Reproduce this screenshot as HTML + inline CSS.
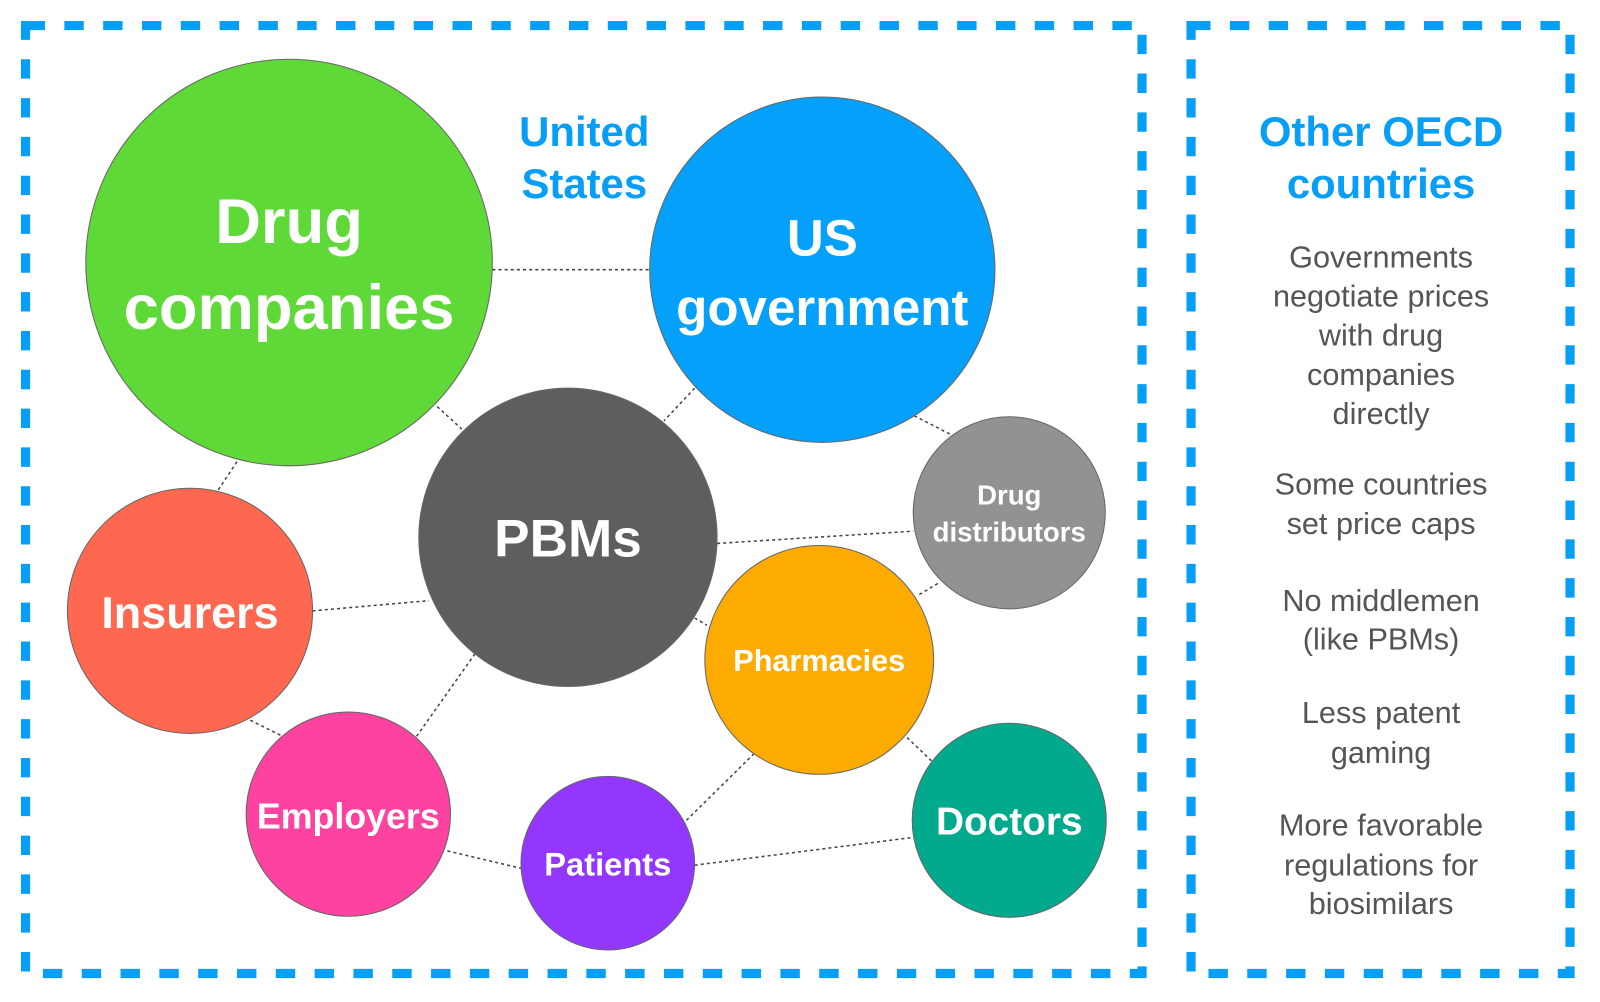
<!DOCTYPE html>
<html><head><style>
html,body{margin:0;padding:0;background:#fff;}
svg{display:block;}
text{font-family:"Liberation Sans","DejaVu Sans",sans-serif;text-anchor:middle;}
</style></head><body>
<svg width="1600" height="1002" viewBox="0 0 1600 1002" xmlns="http://www.w3.org/2000/svg">
<g transform="scale(1.0215)">
<g fill="none" stroke="#079ef6" stroke-width="9" stroke-dasharray="19 19">
<rect x="25" y="25" width="1093" height="928"/>
<rect x="1166" y="25" width="371" height="928"/>
</g>
<g stroke="#444" stroke-width="1.5" stroke-dasharray="3 3">
<line x1="482" y1="264" x2="636" y2="264"/>
<line x1="428" y1="398" x2="452" y2="420"/>
<line x1="232" y1="452" x2="212" y2="482"/>
<line x1="680" y1="380" x2="650" y2="412"/>
<line x1="895" y1="407" x2="930" y2="425"/>
<line x1="702" y1="532" x2="894" y2="520"/>
<line x1="306" y1="598" x2="420" y2="588"/>
<line x1="465" y1="640" x2="407" y2="722"/>
<line x1="680" y1="605" x2="692" y2="612"/>
<line x1="900" y1="582" x2="920" y2="570"/>
<line x1="245" y1="705" x2="275" y2="720"/>
<line x1="438" y1="833" x2="510" y2="850"/>
<line x1="672" y1="803" x2="740" y2="736"/>
<line x1="680" y1="847" x2="892" y2="820"/>
<line x1="888" y1="722" x2="912" y2="745"/>
</g>
<g stroke="#666" stroke-width="1">
<circle cx="283" cy="257" r="199" fill="#5fd937"/>
<circle cx="805" cy="264" r="169" fill="#05a0fa"/>
<circle cx="556" cy="526" r="146" fill="#5e5e5e"/>
<circle cx="988" cy="502" r="94" fill="#929292"/>
<circle cx="186" cy="598" r="120" fill="#fe6750"/>
<circle cx="802" cy="646" r="112" fill="#fdab00"/>
<circle cx="341" cy="797" r="100" fill="#fe42a0"/>
<circle cx="595" cy="845" r="85" fill="#9337fe"/>
<circle cx="988" cy="803" r="95" fill="#01a98d"/>
</g>
<g fill="#fff" font-weight="bold">
<text x="283" y="238" font-size="62">Drug</text>
<text x="283" y="322" font-size="62">companies</text>
<text x="805" y="250" font-size="50">US</text>
<text x="805" y="318" font-size="50">government</text>
<text x="556" y="545" font-size="52">PBMs</text>
<text x="988" y="494" font-size="27">Drug</text>
<text x="988" y="530" font-size="27">distributors</text>
<text x="186" y="615" font-size="44">Insurers</text>
<text x="802" y="657" font-size="30">Pharmacies</text>
<text x="341" y="811" font-size="35">Employers</text>
<text x="595" y="857" font-size="32">Patients</text>
<text x="988" y="817" font-size="38">Doctors</text>
</g>
<g fill="#079ef6" font-size="41" font-weight="bold">
<text x="572" y="143">United</text>
<text x="572" y="194">States</text>
<text x="1352" y="143">Other OECD</text>
<text x="1352" y="194">countries</text>
</g>
<g fill="#555" font-size="30">
<text x="1352" y="262">Governments</text>
<text x="1352" y="300">negotiate prices</text>
<text x="1352" y="338">with drug</text>
<text x="1352" y="377">companies</text>
<text x="1352" y="415">directly</text>
<text x="1352" y="484">Some countries</text>
<text x="1352" y="523">set price caps</text>
<text x="1352" y="598">No middlemen</text>
<text x="1352" y="636">(like PBMs)</text>
<text x="1352" y="708">Less patent</text>
<text x="1352" y="747">gaming</text>
<text x="1352" y="818">More favorable</text>
<text x="1352" y="857">regulations for</text>
<text x="1352" y="895">biosimilars</text>
</g>
</g>
</svg>
</body></html>
